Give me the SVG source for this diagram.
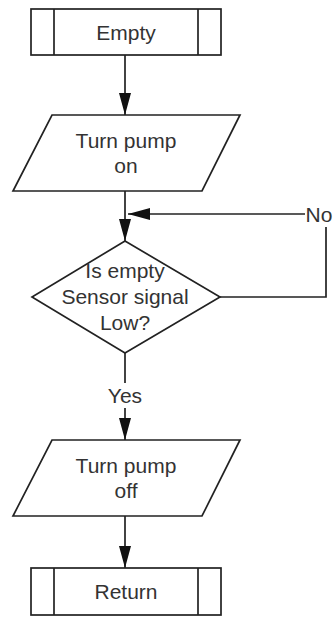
<svg xmlns="http://www.w3.org/2000/svg" width="334" height="617" viewBox="0 0 334 617">
<style>
.s{fill:#fff;stroke:#222;stroke-width:1.7}
.c{fill:none;stroke:#222;stroke-width:1.7}
text{font-family:"Liberation Sans",Arial,sans-serif;font-size:21px;fill:#333;text-anchor:middle;dominant-baseline:central}
</style>
<defs>
<marker id="b" markerWidth="22" markerHeight="12" refX="22" refY="6" orient="auto" markerUnits="userSpaceOnUse" viewBox="0 0 22 12">
<path d="M0,0 L22,6 L0,12 z" fill="#111"/>
</marker>
</defs>
<g id="connectors">
<line class="c" x1="125" y1="55" x2="125" y2="115" marker-end="url(#b)"/>
<line class="c" x1="125" y1="191" x2="125" y2="241" marker-end="url(#b)"/>
<polyline class="c" points="220,297 326,297 326,227"/>
<line class="c" x1="305" y1="214" x2="128" y2="214" marker-end="url(#b)"/>
<text x="319" y="214">No</text>
<line class="c" x1="125" y1="353" x2="125" y2="383"/>
<text x="125" y="395">Yes</text>
<line class="c" x1="125" y1="408" x2="125" y2="440" marker-end="url(#b)"/>
<line class="c" x1="125" y1="516" x2="125" y2="568" marker-end="url(#b)"/>
</g>
<g id="empty">
<rect class="s" x="31" y="9" width="190" height="46"/>
<line class="c" x1="54" y1="9" x2="54" y2="55"/>
<line class="c" x1="198" y1="9" x2="198" y2="55"/>
<text x="126" y="32">Empty</text>
</g>
<g id="pump-on">
<polygon class="s" points="52,115 240,115 202,191 13,191"/>
<text x="126" y="140">Turn pump</text>
<text x="126" y="165">on</text>
</g>
<g id="decision">
<polygon class="s" points="125,241 220,297 125,353 32,297"/>
<text x="125" y="270">Is empty</text>
<text x="125" y="296">Sensor signal</text>
<text x="125" y="322">Low?</text>
</g>
<g id="pump-off">
<polygon class="s" points="52,440 240,440 202,516 13,516"/>
<text x="126" y="465">Turn pump</text>
<text x="126" y="490">off</text>
</g>
<g id="return">
<rect class="s" x="31" y="568" width="190" height="47"/>
<line class="c" x1="54" y1="568" x2="54" y2="615"/>
<line class="c" x1="198" y1="568" x2="198" y2="615"/>
<text x="126" y="591">Return</text>
</g>
</svg>
